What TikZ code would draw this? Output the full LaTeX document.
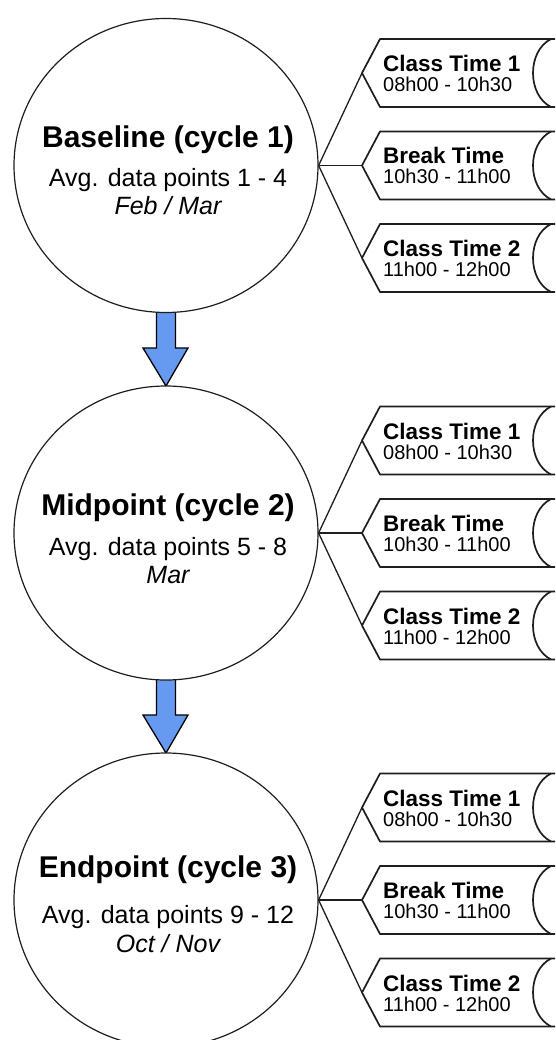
\documentclass[tikz,border=0pt]{standalone}
\usepackage{fontspec}
\setmainfont{Liberation Sans}
\usetikzlibrary{calc,shapes.geometric}
\definecolor{arrowblue}{RGB}{102,153,240}
\definecolor{linegray}{RGB}{30,30,30}
\tikzset{
  phase/.style={ellipse, draw=linegray, line width=1.2pt, fill=white,
    minimum width=304pt, minimum height=294pt, inner sep=0pt},
  ttl/.style={anchor=base, inner sep=0pt, font=\fontsize{30}{36}\selectfont\bfseries},
  sub/.style={anchor=base, inner sep=0pt, font=\fontsize{25}{30}\selectfont},
  subit/.style={anchor=base, inner sep=0pt, font=\fontsize{25}{30}\selectfont\itshape},
  tboxline/.style={draw=linegray, line width=1.7pt, fill=white, line join=round},
  tarc/.style={draw=linegray, line width=1.7pt},
  btitle/.style={anchor=base west, inner sep=0pt, font=\fontsize{22.5}{27}\selectfont\bfseries},
  btime/.style={anchor=base west, inner sep=0pt, font=\fontsize{20}{24}\selectfont},
  conn/.style={draw=linegray, line width=1.3pt},
  blk/.style={draw=black, line width=1.3pt, fill=arrowblue, line join=miter},
}
\newcommand\TimeBox[4]{%
  \coordinate (#1) at (362,#2);
  \draw[tboxline] (#1) -- ++(18,-34) -- ++(190,0) -- ++(0,68) -- ++(-190,0) -- cycle;
  \draw[tarc] ($(#1)+(189,-34)$) .. controls ($(#1)+(165,-22)$) and ($(#1)+(165,22)$) .. ($(#1)+(189,34)$);
  \node[btitle] (#1t) at ($(#1)+(21,-1.5)$) {#3};
  \node[btime] (#1s) at ($(#1)+(21,18.5)$) {#4};
}
\begin{document}
\begin{tikzpicture}[x=1pt,y=-1pt]
\useasboundingbox (0,0) rectangle (555,1040);
\clip (0,0) rectangle (555,1040);
\fill[white] (0,0) rectangle (555,1040);

% phase circles (coordinates for arrows first)
\path (166,165.5) coordinate (p1) (166,533) coordinate (p2) (166,900) coordinate (p3);

% block arrows
\draw[blk] ($(p1)+(-9.5,145)$) -- ($(p2)+(-9.5,-185)$) -- ($(p2)+(-23,-185)$) -- ($(p2)+(0,-147)$)
  -- ($(p2)+(22,-185)$) -- ($(p2)+(9.5,-185)$) -- ($(p1)+(9.5,145)$) -- cycle;
\draw[blk] ($(p2)+(-9.5,145)$) -- ($(p3)+(-9.5,-185)$) -- ($(p3)+(-23,-185)$) -- ($(p3)+(0,-147)$)
  -- ($(p3)+(22,-185)$) -- ($(p3)+(9.5,-185)$) -- ($(p2)+(9.5,145)$) -- cycle;

\node[phase] (c1) at (p1) {};
\node[phase] (c2) at (p2) {};
\node[phase] (c3) at (p3) {};

\node[ttl] (t1) at (168,147.5) {Baseline (cycle 1)};
\node[sub] (a1) at (168,187) {Avg. data points 1 - 4};
\node[subit] (m1) at (168,215) {Feb / Mar};

\node[ttl] (t2) at (168,515) {Midpoint (cycle 2)};
\node[sub] (a2) at (168,555) {Avg. data points 5 - 8};
\node[subit] (m2) at (168,583) {Mar};

\node[ttl] (t3) at (168,877) {Endpoint (cycle 3)};
\node[sub] (a3) at (168,923) {Avg. data points 9 - 12};
\node[subit] (m3) at (168,952) {Oct / Nov};

% time boxes
\TimeBox{b11}{73}{Class Time 1}{08h00 - 10h30}
\TimeBox{b12}{165.5}{Break Time}{10h30 - 11h00}
\TimeBox{b13}{258}{Class Time 2}{11h00 - 12h00}
\TimeBox{b21}{440.5}{Class Time 1}{08h00 - 10h30}
\TimeBox{b22}{533}{Break Time}{10h30 - 11h00}
\TimeBox{b23}{625.5}{Class Time 2}{11h00 - 12h00}
\TimeBox{b31}{807.5}{Class Time 1}{08h00 - 10h30}
\TimeBox{b32}{900}{Break Time}{10h30 - 11h00}
\TimeBox{b33}{992.5}{Class Time 2}{11h00 - 12h00}

% connectors
\foreach \i in {1,2,3}{
  \draw[conn] (c\i.east) -- (b\i1);
  \draw[conn] (c\i.east) -- (b\i2);
  \draw[conn] (c\i.east) -- (b\i3);
}
\end{tikzpicture}
\end{document}
